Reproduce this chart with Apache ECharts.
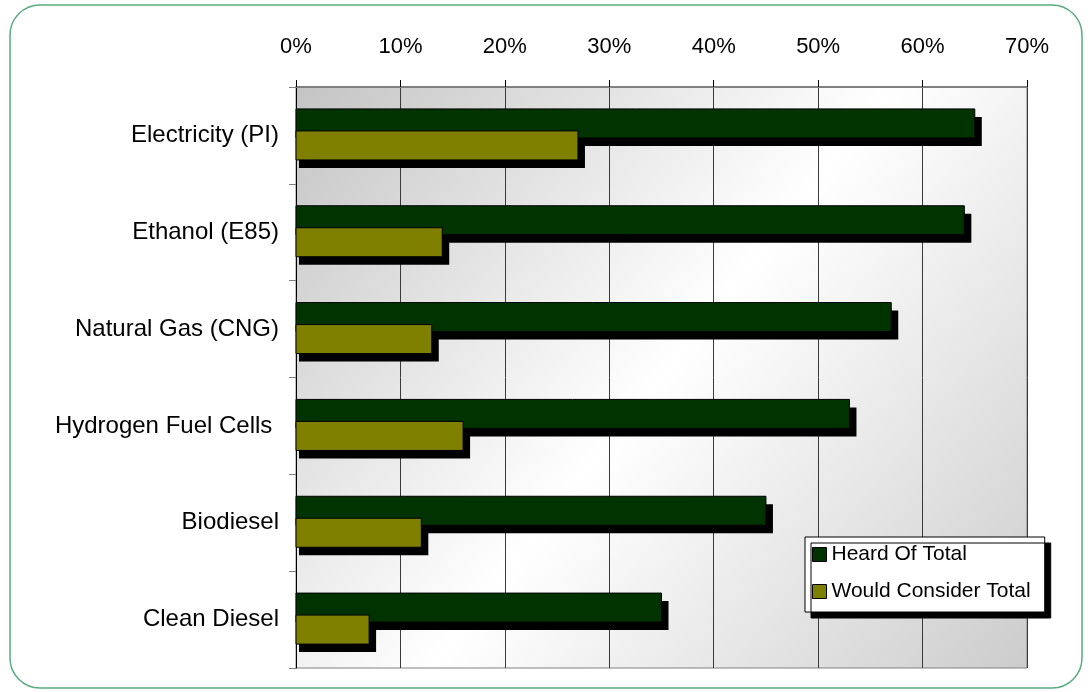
<!DOCTYPE html>
<html>
<head>
<meta charset="utf-8">
<script src="https://cdn.jsdelivr.net/npm/echarts@6/dist/echarts.min.js"></script>
<style>
  html, body { margin: 0; padding: 0; background: #fff; }
  #main { width: 1092px; height: 692px; }
</style>
</head>
<body>
<div id="main"></div>
<script>
// categories top to bottom
var fuels = ['Electricity (PI)', 'Ethanol (E85)', 'Natural Gas (CNG)', 'Hydrogen Fuel Cells ', 'Biodiesel', 'Clean Diesel'];
// values (fractions)
var heardOf = [0.65, 0.64, 0.57, 0.53, 0.45, 0.35];
var wouldConsider = [0.27, 0.14, 0.13, 0.16, 0.12, 0.07];
var xTicks = [0, 0.1, 0.2, 0.3, 0.4, 0.5, 0.6, 0.7];

var chart = echarts.init(document.getElementById('main'));

var font = 'Liberation Sans, Arial, sans-serif';

// bar with a hard black drop shadow, drawn through the axes
function barRenderer(fill, topOff) {
    return function (params, api) {
        var val = api.value(0), idx = api.value(1);
        var p0 = api.coord([0, idx]);
        var p1 = api.coord([val, idx]);
        var h = 29;
        var y = p0[1] + topOff;
        var w = p1[0] - p0[0];
        return {
            type: 'group',
            children: [{
                type: 'rect',
                shape: { x: p0[0] + 3, y: y + 8, width: w + 4, height: h },
                style: { fill: '#000' }
            }, {
                type: 'rect',
                shape: { x: p0[0], y: y, width: w, height: h },
                style: { fill: fill, stroke: '#000', lineWidth: 1 }
            }]
        };
    };
}

function pairs(arr) {
    return arr.map(function (v, i) { return [v, i]; });
}

var option = {
    animation: false,
    graphic: [{
        type: 'rect',
        shape: { x: 10, y: 5, width: 1072, height: 683, r: 30 },
        style: { fill: 'none', stroke: '#5aab7f', lineWidth: 1.5 },
        z: -10
    }],
    grid: {
        left: 296, right: 65, top: 87, bottom: 24,
        show: true,
        borderColor: '#808080',
        borderWidth: 1,
        backgroundColor: new echarts.graphic.LinearGradient(0, 0, 1, 1, [
            { offset: 0, color: '#c4c4c4' },
            { offset: 0.5, color: '#ffffff' },
            { offset: 1, color: '#cccccc' }
        ])
    },
    legend: {
        orient: 'vertical',
        left: 805, top: 537,
        itemWidth: 14, itemHeight: 14,
        itemGap: 16,
        itemStyle: { borderColor: '#000', borderWidth: 1 },
        padding: [7, 14, 10, 7],
        backgroundColor: '#fff',
        borderColor: '#000',
        borderWidth: 1,
        shadowColor: '#000',
        shadowBlur: 0,
        shadowOffsetX: 6,
        shadowOffsetY: 6,
        icon: 'rect',
        textStyle: { fontFamily: font, fontSize: 21, color: '#000' },
        data: ['Heard Of Total', 'Would Consider Total']
    },
    xAxis: {
        type: 'value',
        position: 'top',
        min: xTicks[0],
        max: xTicks[xTicks.length - 1],
        interval: 0.1,
        axisLine: { show: true, lineStyle: { color: '#808080', width: 2 } },
        axisTick: { show: true, inside: false, length: 7, lineStyle: { color: '#000' } },
        axisLabel: {
            margin: 29,
            fontFamily: font, fontSize: 22, color: '#000',
            formatter: function (v) { return Math.round(v * 100) + '%'; }
        },
        splitLine: { show: true, lineStyle: { color: '#3a3a3a', width: 1 } }
    },
    yAxis: {
        type: 'category',
        inverse: true,
        data: fuels,
        axisLine: { show: true, lineStyle: { color: '#000', width: 1 } },
        axisTick: { show: true, length: 7, lineStyle: { color: '#808080', width: 1 } },
        axisLabel: { margin: 17, fontFamily: font, fontSize: 24, color: '#000' }
    },
    series: [{
        name: 'Heard Of Total',
        type: 'custom',
        data: pairs(heardOf),
        encode: { x: 0, y: 1 },
        itemStyle: { color: '#003300' },
        renderItem: barRenderer('#003300', -26.5)
    }, {
        name: 'Would Consider Total',
        type: 'custom',
        data: pairs(wouldConsider),
        encode: { x: 0, y: 1 },
        itemStyle: { color: '#808000' },
        renderItem: barRenderer('#808000', -4.5)
    }]
};

chart.setOption(option);
</script>
</body>
</html>
